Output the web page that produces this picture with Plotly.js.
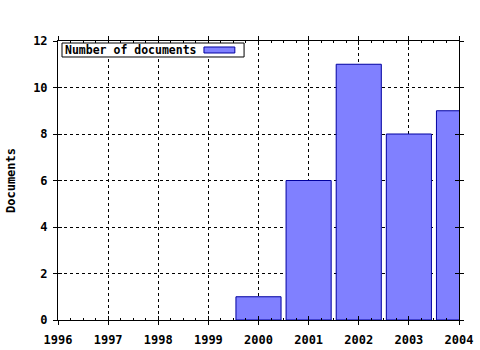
<!DOCTYPE html>
<html>
<head>
<meta charset="utf-8">
<script src="https://cdn.plot.ly/plotly-3.0.1.min.js"></script>
<style>html,body{margin:0;padding:0;background:#fff;}#chart{width:480px;height:350px;}</style>
</head>
<body>
<div id="chart"></div>
<script>
const years = [2000, 2001, 2002, 2003, 2004];
const documents = [1, 6, 11, 8, 9];
const xTickVals = [1996, 1997, 1998, 1999, 2000, 2001, 2002, 2003, 2004];
const yTickVals = [0, 2, 4, 6, 8, 10, 12];
const seriesName = "Number of documents";
const yTitle = "Documents";

const FONT = "DejaVu Sans Mono";
const tickFont = {family: FONT, size: 12, color: "#000", weight: "bold"};

const trace = {
  type: "bar",
  x: years,
  y: documents,
  width: 0.9,
  name: seriesName,
  marker: {color: "#8080ff", line: {color: "#0000a0", width: 1}},
  showlegend: false,
  hoverinfo: "skip"
};
const dummy = {type: "scatter", x: [1996], y: [0], xaxis: "x2", yaxis: "y2", mode: "markers",
  marker: {opacity: 0}, showlegend: false, hoverinfo: "skip"};

const layout = {
  width: 480, height: 350,
  margin: {l: 58, r: 21, t: 41, b: 30},
  paper_bgcolor: "#fff", plot_bgcolor: "#fff",
  font: {family: FONT, color: "#000"},
  bargap: 0,
  xaxis: {
    range: [1996, 2004], tickvals: xTickVals, ticktext: xTickVals.map(String),
    tickfont: tickFont, ticks: "inside", ticklen: 4, tickcolor: "#000", ticklabelstandoff: 9,
    minor: {dtick: 0.25, ticks: "inside", ticklen: 2, tickcolor: "#000", showgrid: false},
    showline: true, linecolor: "#000", linewidth: 1, mirror: "allticks",
    showgrid: true, gridcolor: "#000", griddash: "dot", gridwidth: 1,
    zeroline: false, fixedrange: true
  },
  yaxis: {
    range: [0, 12], tickvals: yTickVals, ticktext: yTickVals.map(String),
    tickfont: tickFont, ticks: "inside", ticklen: 4, tickcolor: "#000", ticklabelstandoff: 7,
    showline: true, linecolor: "#000", linewidth: 1, mirror: "allticks",
    showgrid: true, gridcolor: "#000", griddash: "dot", gridwidth: 1,
    zeroline: false, fixedrange: true,
    title: {text: yTitle, font: {family: FONT, size: 12, weight: "bold", color: "#000"}, standoff: 14}
  },
  xaxis2: {
    overlaying: "x", matches: "x", range: [1996, 2004], tickvals: xTickVals, showticklabels: false,
    ticks: "outside", ticklen: 4, tickcolor: "#000", mirror: "allticks", showline: true, linecolor: "#000",
    showgrid: false, zeroline: false
  },
  yaxis2: {
    overlaying: "y", matches: "y", range: [0, 12], tickvals: yTickVals, showticklabels: false,
    ticks: "outside", ticklen: 4, tickcolor: "#000", mirror: "allticks", showline: true, linecolor: "#000",
    showgrid: false, zeroline: false
  },
  shapes: [
    {type: "rect", xref: "paper", yref: "paper", x0: 0.010, x1: 0.464, y0: 0.9427, y1: 0.9928,
     fillcolor: "#fff", line: {color: "#000", width: 1}, layer: "above"},
    {type: "rect", xref: "paper", yref: "paper", x0: 0.364, x1: 0.441, y0: 0.957, y1: 0.9785,
     fillcolor: "#8080ff", line: {color: "#0000a0", width: 1}, layer: "above"}
  ],
  annotations: [{
    xref: "paper", yref: "paper", x: 0.013, y: 0.968, xanchor: "left", yanchor: "middle",
    text: seriesName, showarrow: false,
    font: {family: FONT, size: 11.5, weight: "bold", color: "#000"}
  }]
};

Plotly.newPlot("chart", [trace, dummy], layout, {staticPlot: true, displayModeBar: false});
</script>
</body>
</html>
